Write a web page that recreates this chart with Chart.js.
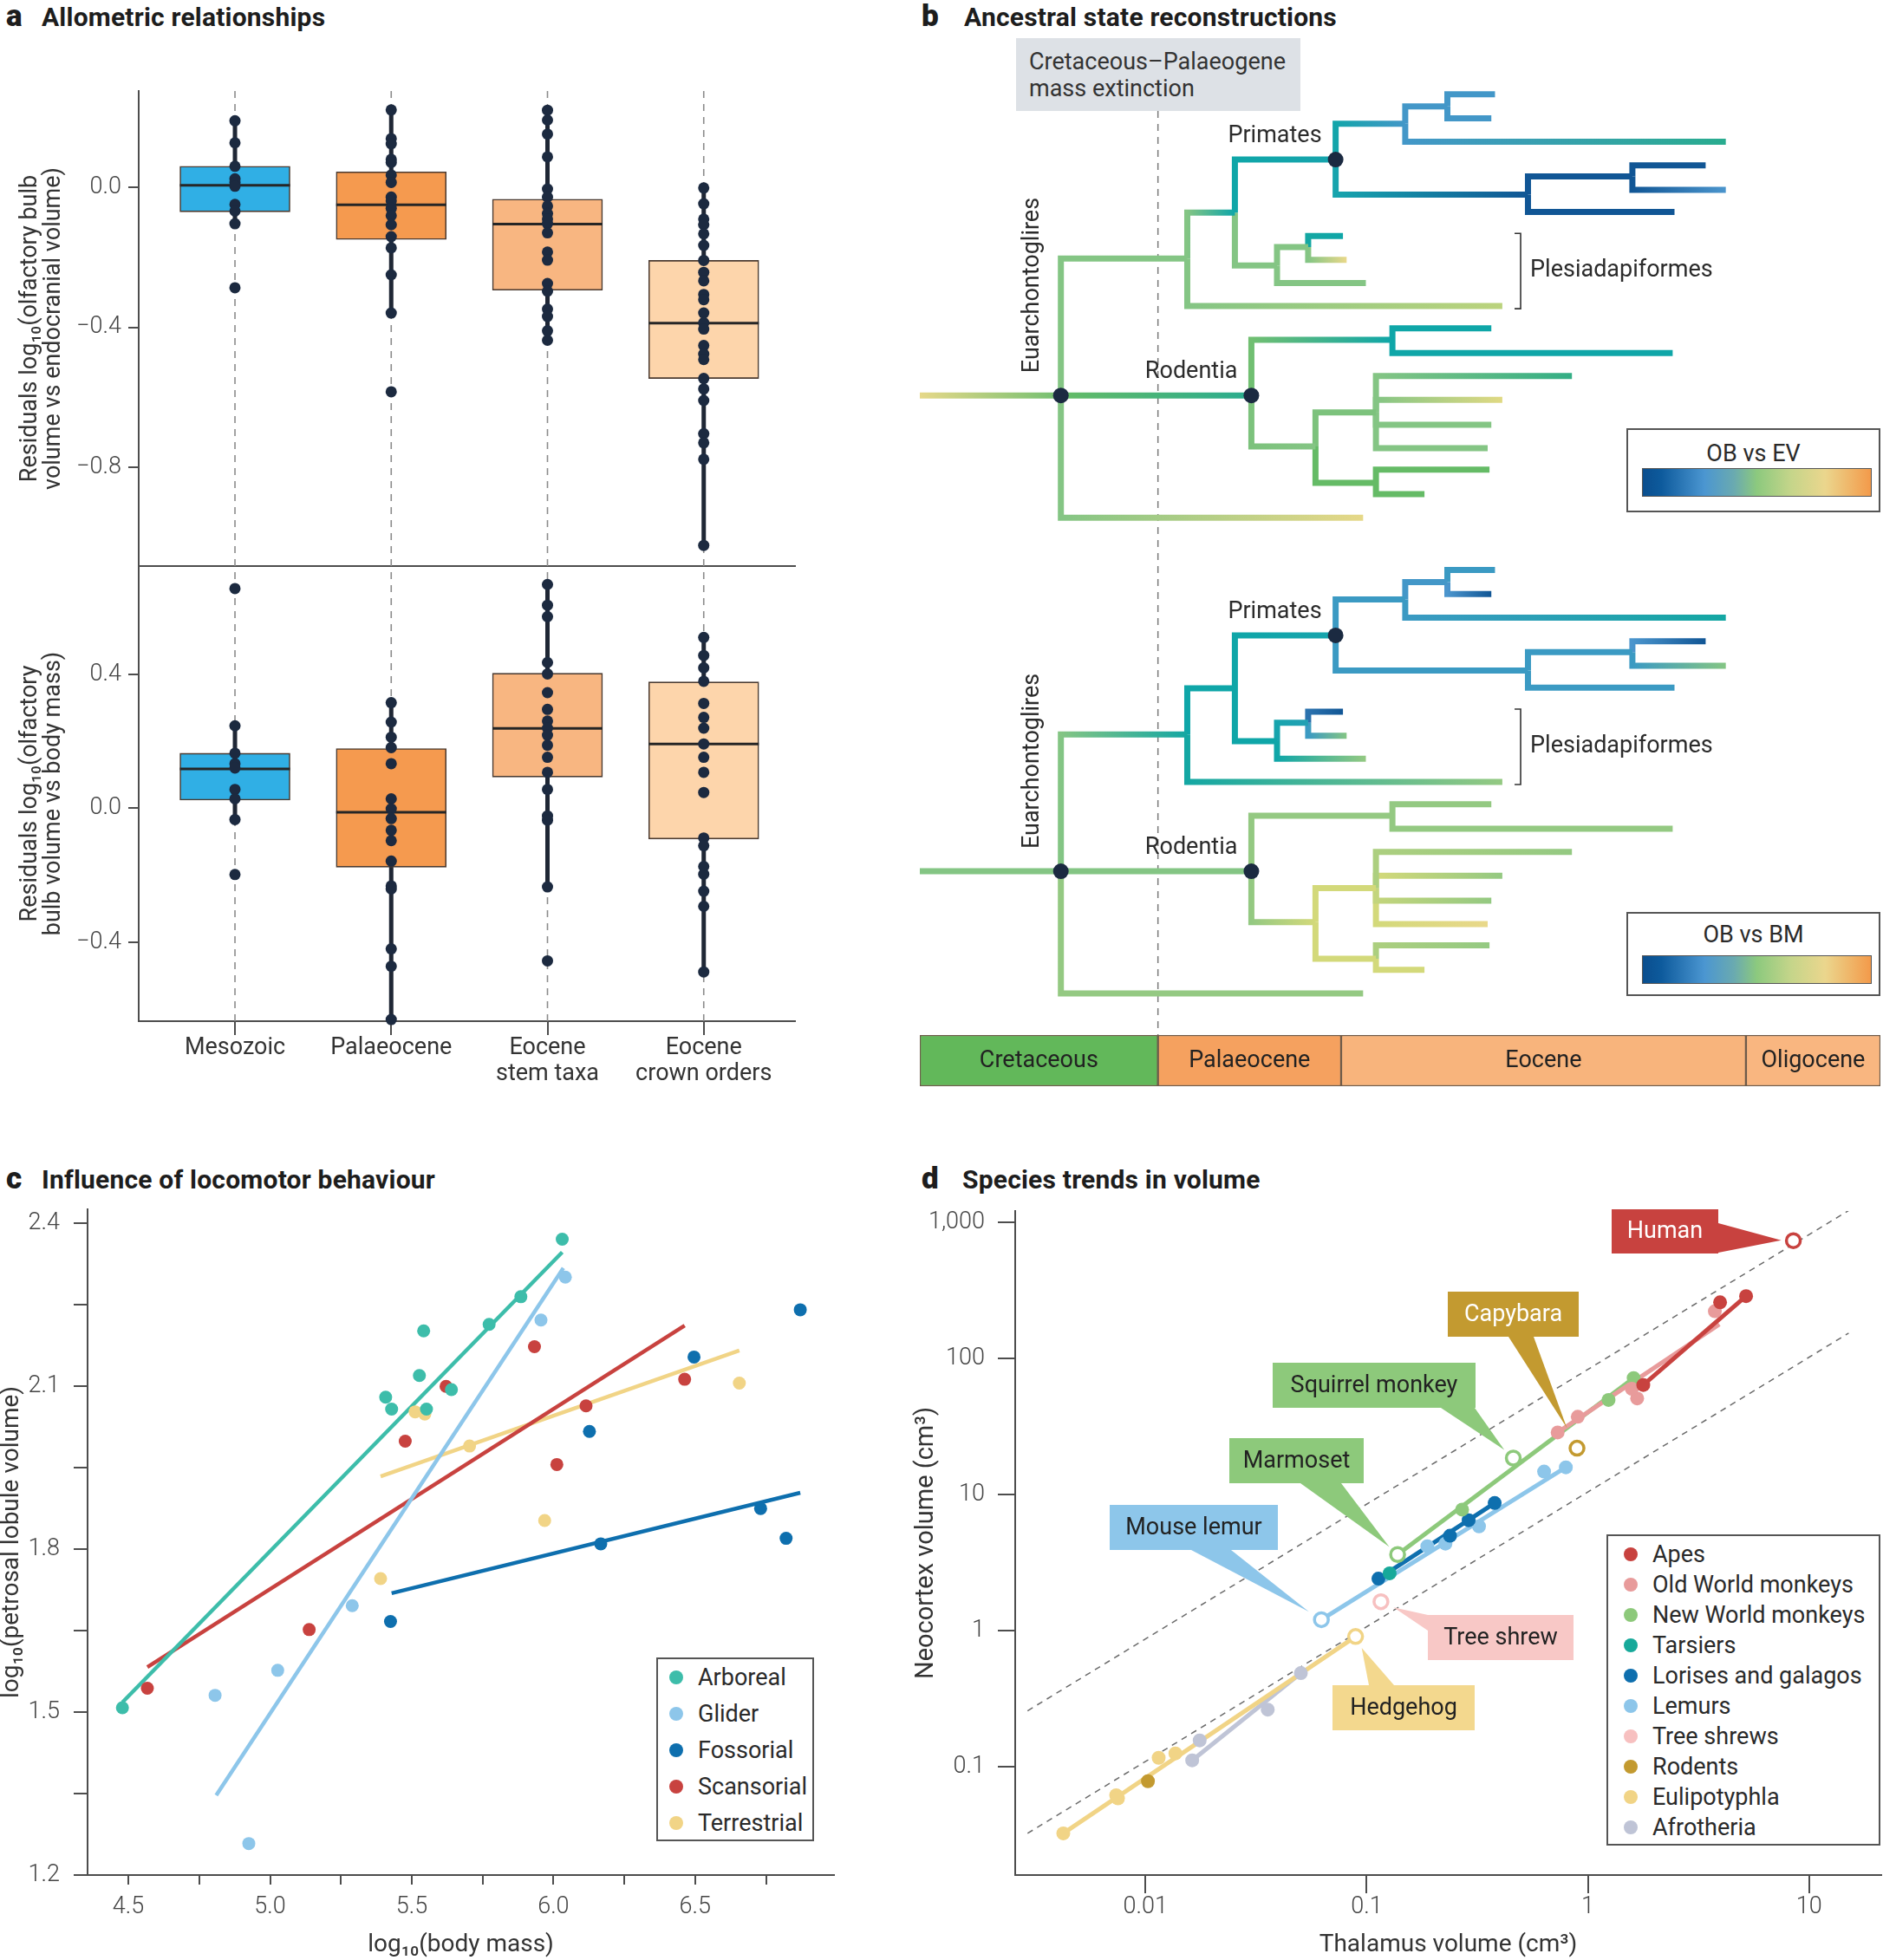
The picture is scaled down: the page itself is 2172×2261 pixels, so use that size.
<!DOCTYPE html>
<html>
<head>
<meta charset="utf-8">
<title>Olfactory bulb, petrosal lobule and neocortex volume</title>
<script src="https://cdn.jsdelivr.net/npm/chart.js@4.4.1/dist/chart.umd.min.js"></script>
<style>
  html, body { margin: 0; padding: 0; background: #fff; }
  body { position: relative; width: 2172px; height: 2261px; overflow: hidden; font-family: Roboto, "Noto Sans", sans-serif; color: #222; }
  .wrap { position: absolute; }
  .ptitle { position: absolute; font-weight: 700; font-size: 30px; letter-spacing: 0.2px; color: #1d1d1d; white-space: nowrap; line-height: 34px; }
  .ptitle .lt { font-weight: 900; font-size: 35px; display: inline-block; letter-spacing: 0; }
  .legend { position: absolute; border: 2px solid #555; background: #fff; box-sizing: border-box; }
  .legend .item { position: absolute; font-size: 27px; color: #2a2a2a; white-space: nowrap; line-height: 32px; }
  .legend .dot { position: absolute; border-radius: 50%; }
  .extinct { position: absolute; left: 1172px; top: 44px; width: 328px; height: 84px; background: #dde1e6; box-sizing: border-box; padding: 12px 0 0 15px; font-size: 27px; line-height: 31px; color: #333; }
  .scale { position: absolute; border: 2px solid #555; background: #fff; box-sizing: border-box; }
  .scale .name { position: absolute; left: 0; right: 0; text-align: center; font-size: 27px; line-height: 32px; color: #2a2a2a; }
  .scale .bar { position: absolute; left: 16px; width: 265px; height: 33px; border: 1.5px solid #555; box-sizing: border-box; }
</style>
</head>
<body>

<div class="ptitle" style="left:7px;top:2px"><span class="lt" style="width:41px">a</span>Allometric relationships</div>
<div class="ptitle" style="left:1063px;top:2px"><span class="lt" style="width:49px">b</span>Ancestral state reconstructions</div>
<div class="ptitle" style="left:7px;top:1343px"><span class="lt" style="width:41px">c</span>Influence of locomotor behaviour</div>
<div class="ptitle" style="left:1063px;top:1343px"><span class="lt" style="width:47px">d</span>Species trends in volume</div>

<div class="wrap" style="left:0;top:60px"><canvas id="evChart" width="940" height="600"></canvas></div>
<div class="wrap" style="left:0;top:653px"><canvas id="bmChart" width="940" height="637"></canvas></div>

<div class="extinct">Cretaceous–Palaeogene<br>mass extinction</div>
<div class="wrap" style="left:1061px;top:0"><canvas id="treeChart" width="1111" height="1194"></canvas></div>
<div class="wrap" style="left:1061px;top:1194px"><canvas id="timeChart" width="1111" height="60"></canvas></div>
<div class="scale" style="left:1876px;top:494px;width:293px;height:97px"><div class="name" style="top:11px">OB vs EV</div><div class="bar" id="evScale" style="top:44px"></div></div>
<div class="scale" style="left:1876px;top:1052px;width:293px;height:97px"><div class="name" style="top:8px">OB vs BM</div><div class="bar" id="bmScale" style="top:48px"></div></div>

<div class="wrap" style="left:0;top:1370px"><canvas id="locoChart" width="980" height="891"></canvas></div>
<div class="legend" id="locoLegend" style="left:757px;top:1912px;width:182px;height:212px"></div>

<div class="wrap" style="left:1050px;top:1370px"><canvas id="volChart" width="1122" height="891"></canvas></div>
<div class="legend" id="volLegend" style="left:1853px;top:1770px;width:316px;height:359px"></div>

<script>
// ---------------- a: residuals per time bin ----------------
const binNames = ['Mesozoic', 'Palaeocene', 'Eocene stem taxa', 'Eocene crown orders'];
const binTickLines = [['Mesozoic'], ['Palaeocene'], ['Eocene', 'stem taxa'], ['Eocene', 'crown orders']];
const binColors = ['#30afe5', '#f59a4f', '#f8b681', '#fdd5ab'];

// OB vs endocranial volume
const evQ1 = [-0.070, -0.149, -0.294, -0.546];
const evMedian = [0.006, -0.050, -0.105, -0.388];
const evQ3 = [0.060, 0.044, -0.034, -0.209];
const evWhiskerLow = [-0.104, -0.359, -0.437, -1.023];
const evWhiskerHigh = [0.190, 0.221, 0.220, -0.002];
const evPoints = [
  [0.190, 0.127, 0.060, 0.024, 0.014, 0.003, -0.049, -0.068, -0.104, -0.287],
  [0.221, 0.139, 0.124, 0.080, 0.071, 0.035, 0.014, -0.028, -0.039, -0.060, -0.081, -0.107, -0.141, -0.173, -0.250, -0.359, -0.584],
  [0.220, 0.192, 0.152, 0.087, -0.005, -0.028, -0.054, -0.075, -0.091, -0.104, -0.130, -0.185, -0.208, -0.275, -0.297, -0.348, -0.369, -0.410, -0.437],
  [-0.002, -0.047, -0.091, -0.107, -0.133, -0.166, -0.209, -0.243, -0.267, -0.306, -0.321, -0.359, -0.387, -0.405, -0.452, -0.476, -0.492, -0.546, -0.576, -0.609, -0.704, -0.730, -0.777, -1.023]
];
const evTicks = [-0.8, -0.4, 0];

// OB vs body mass
const bmQ1 = [0.024, -0.176, 0.093, -0.092];
const bmMedian = [0.117, -0.012, 0.238, 0.192];
const bmQ3 = [0.164, 0.178, 0.403, 0.377];
const bmWhiskerLow = [-0.034, -0.631, -0.235, -0.489];
const bmWhiskerHigh = [0.246, 0.315, 0.668, 0.510];
const bmPoints = [
  [0.656, 0.246, 0.164, 0.133, 0.120, 0.056, 0.028, -0.034, -0.198],
  [0.315, 0.257, 0.212, 0.181, 0.133, 0.028, -0.002, -0.031, -0.066, -0.097, -0.158, -0.232, -0.241, -0.420, -0.472, -0.631],
  [0.668, 0.606, 0.572, 0.435, 0.401, 0.345, 0.295, 0.260, 0.239, 0.218, 0.188, 0.152, 0.107, 0.056, -0.023, -0.036, -0.235, -0.456],
  [0.510, 0.456, 0.419, 0.379, 0.313, 0.271, 0.239, 0.192, 0.152, 0.107, 0.047, -0.089, -0.112, -0.174, -0.197, -0.248, -0.293, -0.489]
];
const bmTicks = [-0.4, 0, 0.4];

// ---------------- b: tree (ages in Ma, rows = vertical layout units) ----------------
const nodeId     = ['R', 'N1', 'N2', 'N3', 'N4', 'N5', 'N6', 'T1', 'T2', 'T3', 'N7', 'N8', 'T4', 'T5', 'T6', 'N9', 'N10', 'T7', 'T8', 'T9', 'T10', 'N11', 'N12', 'T11', 'T12', 'N13', 'N14', 'T13', 'T14', 'T15', 'T16', 'N15', 'T17', 'T18', 'T19'];
const nodeParent = [null, 'R', 'N1', 'N2', 'N3', 'N4', 'N5', 'N6', 'N6', 'N5', 'N4', 'N7', 'N8', 'N8', 'N7', 'N3', 'N9', 'N10', 'N10', 'N9', 'N2', 'N1', 'N11', 'N12', 'N12', 'N11', 'N13', 'N14', 'N14', 'N14', 'N14', 'N13', 'N15', 'N15', 'N1'];
const nodeAge    = [79, 71.3, 64.4, 61.8, 56.3, 52.5, 50.2, 47.6, 47.8, 35.0, 45.8, 40.1, 36.1, 35.0, 37.8, 59.5, 57.8, 55.9, 55.7, 54.65, 47.2, 60.9, 53.2, 47.8, 37.9, 57.4, 54.1, 43.4, 47.2, 47.8, 48.0, 54.1, 47.9, 51.45, 54.8];
const nodeRow    = [0, 0, -109.5, -146.3, -188.7, -217.4, -231.3, -241, -221.7, -202.9, -160.6, -175.3, -184, -164.4, -146.8, -104, -118.8, -127.6, -108.4, -90, -71.5, 0, -44.5, -53.7, -34, 40.7, 13.5, -15.5, 3.5, 23.5, 42.2, 69.9, 59.3, 78.9, 97.8];
// trait value (0 = low, 1 = high) at start and end of each branch
const evStart = [null, 0.76, 0.6, 0.6, 0.35, 0.34, 0.22, 0.22, 0.22, 0.22, 0.33, 0.02, 0.02, 0.02, 0.02, 0.6, 0.6, 0.36, 0.6, 0.6, 0.6, 0.52, 0.55, 0.35, 0.35, 0.58, 0.58, 0.6, 0.6, 0.6, 0.6, 0.52, 0.52, 0.52, 0.6];
const evEnd   = [null, 0.55, 0.6, 0.35, 0.33, 0.22, 0.22, 0.22, 0.22, 0.4, 0.02, 0.02, 0.02, 0.2, 0.02, 0.6, 0.6, 0.35, 0.77, 0.6, 0.67, 0.4, 0.35, 0.35, 0.35, 0.6, 0.58, 0.42, 0.74, 0.6, 0.6, 0.52, 0.52, 0.52, 0.76];
const bmStart = [null, 0.6, 0.6, 0.35, 0.35, 0.24, 0.22, 0.24, 0.2, 0.24, 0.24, 0.24, 0.2, 0.24, 0.24, 0.35, 0.33, 0.1, 0.24, 0.35, 0.36, 0.6, 0.62, 0.62, 0.62, 0.62, 0.7, 0.65, 0.7, 0.68, 0.7, 0.7, 0.65, 0.7, 0.62];
const bmEnd   = [null, 0.6, 0.36, 0.35, 0.33, 0.24, 0.22, 0.24, 0.02, 0.36, 0.24, 0.24, 0.02, 0.6, 0.24, 0.35, 0.3, 0.02, 0.6, 0.62, 0.62, 0.6, 0.62, 0.62, 0.62, 0.7, 0.7, 0.62, 0.62, 0.62, 0.77, 0.7, 0.62, 0.7, 0.62];
const cladeNames = ['Euarchontoglires', 'Primates', 'Rodentia'];
const cladeNodes = ['N1', 'N4', 'N11'];
const treeShift = [0, 380.6];
const kpgAge = 66;

const periodNames = ['Cretaceous', 'Palaeocene', 'Eocene', 'Oligocene'];
const periodStart = [79, 66, 56, 33.9];
const periodEnd = [66, 56, 33.9, 26.56];
const periodColors = ['#62b85a', '#f5a15f', '#f8b47c', '#f9b680'];

const treeStops = [[0, '#0b4f8f'], [0.2, '#4b95cd'], [0.35, '#0fa6a8'], [0.5, '#5db85e'], [0.6, '#84c584'], [0.7, '#d3d97a'], [0.78, '#ecd88c'], [1, '#f39a4c']];
const scaleStops = [[0, '#0a4e8e'], [0.08, '#0d5a9c'], [0.27, '#4b96d1'], [0.4, '#6aaab0'], [0.5, '#8cc97e'], [0.65, '#c5d58a'], [0.8, '#ebd68d'], [1, '#f39a4a']];

// ---------------- c: petrosal lobule vs body mass ----------------
const locoNames = ['Arboreal', 'Glider', 'Fossorial', 'Scansorial', 'Terrestrial'];
const locoColors = ['#3dbdaa', '#8dc6ea', '#0e6fae', '#c8423f', '#f1d486'];
const arborealMass = [4.479, 5.408, 5.429, 5.527, 5.542, 5.552, 5.640, 5.773, 5.885, 6.031];
const arborealPl   = [1.508, 2.080, 2.058, 2.120, 2.202, 2.058, 2.094, 2.214, 2.265, 2.371];
const gliderMass = [4.806, 4.925, 5.027, 5.290, 5.956, 6.042];
const gliderPl   = [1.531, 1.258, 1.577, 1.696, 2.222, 2.301];
const fossorialMass = [5.425, 6.127, 6.167, 6.496, 6.731, 6.821, 6.871];
const fossorialPl   = [1.667, 2.017, 1.810, 2.154, 1.875, 1.820, 2.241];
const scansorialMass = [4.567, 5.138, 5.477, 5.621, 5.933, 6.012, 6.115, 6.463];
const scansorialPl   = [1.544, 1.652, 1.999, 2.100, 2.173, 1.956, 2.064, 2.113];
const terrestrialMass = [5.390, 5.512, 5.546, 5.704, 5.969, 6.656];
const terrestrialPl   = [1.746, 2.053, 2.049, 1.990, 1.853, 2.106];
const fitMass = [[4.479, 6.031], [4.810, 6.035], [5.429, 6.871], [4.567, 6.463], [5.390, 6.656]];
const fitPl   = [[1.518, 2.347], [1.347, 2.318], [1.719, 1.904], [1.583, 2.212], [1.934, 2.166]];
const massTicks = [4.5, 4.75, 5, 5.25, 5.5, 5.75, 6, 6.25, 6.5, 6.75];
const plTicks = [1.2, 1.35, 1.5, 1.65, 1.8, 1.95, 2.1, 2.25, 2.4];

// ---------------- d: neocortex vs thalamus volume ----------------
const groups = ['Apes', 'Old World monkeys', 'New World monkeys', 'Tarsiers', 'Lorises and galagos', 'Lemurs', 'Tree shrews', 'Rodents', 'Eulipotyphla', 'Afrotheria'];
const groupColors = ['#c8423f', '#e89b9b', '#8dc97b', '#17a99a', '#0e6fae', '#8dc6ea', '#f7c0c0', '#c39a30', '#f1d486', '#bfc4d6'];
const thalamus = [[3.96, 5.19, 1.78], [3.75, 1.67, 1.58, 0.90, 0.73], [1.61, 1.24, 0.27], [0.127], [0.113, 0.238, 0.289, 0.379], [0.634, 0.795, 0.322, 0.227, 0.188], [], [0.01026], [0.00425, 0.00737, 0.00751, 0.01147, 0.01365], [0.01626, 0.01758, 0.0357, 0.0504]];
const neocortex = [[259, 288, 64], [223, 51, 60, 37.4, 28.7], [72, 49.7, 7.78], [2.65], [2.42, 5.0, 6.5, 8.7], [14.8, 15.9, 5.86, 4.38, 4.19], [], [0.0787], [0.0326, 0.0621, 0.0589, 0.117, 0.126], [0.112, 0.157, 0.264, 0.49]];
const trendThal = [[1.78, 5.19], [0.73, 3.93], [0.138, 1.61], null, [0.113, 0.379], [0.0624, 0.795], null, null, [0.00425, 0.0891], [0.01626, 0.0504]];
const trendNeo  = [[64, 288], [28.7, 179], [3.64, 72], null, [2.42, 8.7], [1.21, 15.9], null, null, [0.0326, 0.91], [0.112, 0.49]];
const namedSpecies = ['Human', 'Capybara', 'Squirrel monkey', 'Marmoset', 'Mouse lemur', 'Tree shrew', 'Hedgehog'];
const namedGroup = [0, 7, 2, 2, 5, 6, 8];
const namedThal = [8.49, 0.893, 0.46, 0.138, 0.0624, 0.116, 0.0891];
const namedNeo  = [735, 22.0, 18.6, 3.64, 1.21, 1.64, 0.910];
const guideThal = [0.00293, 15.1];
const guideNeo = [[0.259, 1225], [0.0326, 154]];
const thalTicks = [0.01, 0.1, 1, 10];
const neoTicks = [0.1, 1, 10, 100, 1000];

// ---------------- helpers ----------------
Chart.defaults.font.family = "Roboto, 'Noto Sans', sans-serif";
Chart.defaults.color = '#333';

function fixAxis(size) {
  return scale => {
    if (scale.isHorizontal()) scale.height = size;
    else scale.width = size;
    scale.paddingTop = scale.paddingBottom = scale.paddingLeft = scale.paddingRight = 0;
  };
}
function setTicks(values) {
  return scale => { scale.ticks = values.map(v => ({ value: v })); };
}
const axisLine = { display: true, color: '#4d4d4d', width: 2 };
function tickMarks(len) {
  return { display: true, offset: false, drawOnChartArea: false, drawTicks: true, tickLength: len, color: '#4d4d4d', lineWidth: 2 };
}
const numFont = { size: 27, weight: 300 };
const quiet = { legend: { display: false }, tooltip: { enabled: false } };

function hexRgb(h) {
  return [parseInt(h.slice(1, 3), 16), parseInt(h.slice(3, 5), 16), parseInt(h.slice(5, 7), 16)];
}
function traitColor(v) {
  for (let i = 1; i < treeStops.length; i++) {
    if (v <= treeStops[i][0]) {
      const [p0, c0] = treeStops[i - 1], [p1, c1] = treeStops[i];
      const t = (v - p0) / (p1 - p0);
      const a = hexRgb(c0), b = hexRgb(c1);
      return 'rgb(' + a.map((c, k) => Math.round(c + (b[k] - c) * t)).join(',') + ')';
    }
  }
  return treeStops[treeStops.length - 1][1];
}

// ---------------- a ----------------
function boxChart(id, q1, med, q3, wLo, wHi, pts, yMin, yMax, yTicks, title, bottom) {
  const datasets = [];
  binNames.forEach((_, i) => {
    datasets.push({ type: 'line', data: [{ x: i + 1, y: yMin }, { x: i + 1, y: yMax }], borderColor: '#8c8c8c', borderWidth: 1.6, borderDash: [8, 7], pointRadius: 0, order: 5 });
    datasets.push({ type: 'line', data: [{ x: i + 1, y: wLo[i] }, { x: i + 1, y: wHi[i] }], borderColor: '#1f2735', borderWidth: 5, pointRadius: 0, order: 4 });
  });
  datasets.push({
    type: 'bar', data: binNames.map((_, i) => ({ x: i + 1, y: [q1[i], q3[i]] })),
    backgroundColor: binColors, borderColor: '#4b3b31', borderWidth: 1.6, borderSkipped: false, barThickness: 127, order: 3
  });
  datasets.push({
    type: 'scatter', data: med.map((v, i) => ({ x: i + 1, y: v })),
    pointStyle: 'line', pointRadius: 63.5, pointBorderWidth: 3, pointBorderColor: '#262626', order: 2
  });
  datasets.push({
    type: 'scatter', data: pts.flatMap((arr, i) => arr.map(v => ({ x: i + 1, y: v }))),
    pointRadius: 6.5, pointBackgroundColor: '#1c2a40', pointBorderWidth: 0, clip: false, order: 1
  });
  return new Chart(document.getElementById(id), {
    type: 'scatter',
    data: { datasets },
    options: {
      responsive: false, animation: false, events: [],
      layout: { autoPadding: false, padding: bottom ? { top: 0, right: 23, left: 0, bottom: 0 } : { top: 45, right: 23, left: 0, bottom: 0 } },
      plugins: quiet,
      scales: {
        x: {
          type: 'linear', min: 0.384, max: 4.584, offset: false,
          afterBuildTicks: setTicks(binNames.map((_, i) => i + 1)),
          afterFit: fixAxis(bottom ? 112 : 7),
          ticks: { display: bottom, autoSkip: false, maxRotation: 0, padding: 0, color: '#333', font: { size: 27, lineHeight: 1.12 }, callback: (v, i) => binTickLines[i] },
          grid: bottom ? tickMarks(16) : { display: false },
          border: axisLine
        },
        y: {
          min: yMin, max: yMax,
          afterBuildTicks: setTicks(yTicks),
          afterFit: fixAxis(160),
          ticks: { padding: 8, color: '#444', font: numFont, callback: v => (v < 0 ? '−' : '') + Math.abs(v).toFixed(1) },
          grid: tickMarks(12),
          border: axisLine,
          title: { display: true, text: title, color: '#333', font: { size: 27, lineHeight: 1.0 }, padding: { top: 22, bottom: 0 } }
        }
      }
    }
  });
}
boxChart('evChart', evQ1, evMedian, evQ3, evWhiskerLow, evWhiskerHigh, evPoints, -1.082, 0.275, evTicks,
  ['Residuals log₁₀(olfactory bulb', 'volume vs endocranial volume)'], false);
boxChart('bmChart', bmQ1, bmMedian, bmQ3, bmWhiskerLow, bmWhiskerHigh, bmPoints, -0.636, 0.723, bmTicks,
  ['Residuals log₁₀(olfactory', 'bulb volume vs body mass)'], true);

// ---------------- b ----------------
function branchGradient(chart, a0, a1, c0, c1) {
  if (!chart.chartArea) return c1;
  const xs = chart.scales.x;
  const x0 = xs.getPixelForValue(a0), x1 = xs.getPixelForValue(a1);
  const g = chart.ctx.createLinearGradient(x0, 0, x1, 0);
  g.addColorStop(0, c0);
  g.addColorStop(1, c1);
  return g;
}

const treeDatasets = [];
const treeStarts = [evStart, bmStart], treeEnds = [evEnd, bmEnd];
treeShift.forEach((off, t) => {
  nodeId.forEach((id, k) => {
    const p = nodeParent[k];
    if (p === null) return;
    const pk = nodeId.indexOf(p);
    const a0 = nodeAge[pk], a1 = nodeAge[k];
    const c0 = traitColor(treeStarts[t][k]), c1 = traitColor(treeEnds[t][k]);
    treeDatasets.push({
      type: 'line',
      data: [{ x: a0, y: nodeRow[pk] + off }, { x: a0, y: nodeRow[k] + off }, { x: a1, y: nodeRow[k] + off }],
      borderColor: ctx => branchGradient(ctx.chart, a0, a1, c0, c1),
      borderWidth: 7, borderJoinStyle: 'miter', borderCapStyle: 'butt', pointRadius: 0, order: 3
    });
  });
});
treeDatasets.push({
  type: 'scatter',
  data: treeShift.flatMap(off => cladeNodes.map(n => ({ x: nodeAge[nodeId.indexOf(n)], y: nodeRow[nodeId.indexOf(n)] + off }))),
  pointRadius: 9, pointBackgroundColor: '#1b2a41', pointBorderWidth: 0, order: 1
});
const treeYMin = -288.6, treeYMax = 511.6;
treeDatasets.push({
  type: 'line', data: [{ x: kpgAge, y: -227.6 }, { x: kpgAge, y: treeYMax }],
  borderColor: '#7a7a7a', borderWidth: 1.5, borderDash: [8, 7], pointRadius: 0, order: 6
});

const treeLabels = {
  id: 'treeLabels',
  afterDatasetsDraw(chart) {
    const { ctx, scales: { x, y } } = chart;
    ctx.save();
    ctx.fillStyle = '#2b2b2b';
    ctx.font = "27px Roboto, 'Noto Sans', sans-serif";
    ctx.textBaseline = 'middle';
    treeShift.forEach(off => {
      cladeNames.forEach((name, i) => {
        const k = nodeId.indexOf(cladeNodes[i]);
        const px = x.getPixelForValue(nodeAge[k]), py = y.getPixelForValue(nodeRow[k] + off);
        if (i === 0) {
          ctx.save();
          ctx.translate(px - 32, py - 26);
          ctx.rotate(-Math.PI / 2);
          ctx.textAlign = 'left';
          ctx.fillText(name, 0, 0);
          ctx.restore();
        } else {
          ctx.textAlign = 'right';
          ctx.fillText(name, px - 16, py - 27);
        }
      });
      // Plesiadapiformes bracket from T7 to T10
      const bx = x.getPixelForValue(46.2);
      const yTop = y.getPixelForValue(nodeRow[nodeId.indexOf('T7')] + off) - 3;
      const yBot = y.getPixelForValue(nodeRow[nodeId.indexOf('T10')] + off) + 3;
      ctx.strokeStyle = '#333';
      ctx.lineWidth = 1.6;
      ctx.beginPath();
      ctx.moveTo(bx - 7, yTop); ctx.lineTo(bx, yTop); ctx.lineTo(bx, yBot); ctx.lineTo(bx - 7, yBot);
      ctx.stroke();
      ctx.textAlign = 'left';
      ctx.fillText('Plesiadapiformes', bx + 11, (yTop + yBot) / 2);
    });
    ctx.restore();
  }
};

const treeChart = new Chart(document.getElementById('treeChart'), {
  type: 'scatter',
  data: { datasets: treeDatasets },
  options: {
    responsive: false, animation: false, events: [],
    layout: { autoPadding: false, padding: { top: 40, right: 3, left: 0, bottom: 0 } },
    plugins: quiet,
    scales: {
      x: { type: 'linear', reverse: true, min: 26.56, max: 79, display: false },
      y: { type: 'linear', reverse: true, min: treeYMin, max: treeYMax, display: false }
    }
  },
  plugins: [treeLabels]
});
treeChart.update('none');

const periodLabels = {
  id: 'periodLabels',
  afterDatasetsDraw(chart) {
    const ctx = chart.ctx;
    ctx.save();
    ctx.font = "27px Roboto, 'Noto Sans', sans-serif";
    ctx.fillStyle = '#222';
    ctx.textAlign = 'center';
    ctx.textBaseline = 'middle';
    chart.data.datasets.forEach((ds, i) => {
      const el = chart.getDatasetMeta(i).data[0];
      ctx.fillText(ds.label, (el.x + el.base) / 2, el.y + 1);
    });
    ctx.restore();
  }
};
new Chart(document.getElementById('timeChart'), {
  type: 'bar',
  data: {
    labels: ['Epoch'],
    datasets: periodNames.map((name, i) => ({
      label: name, data: [[periodStart[i], periodEnd[i]]],
      backgroundColor: periodColors[i], borderColor: '#6e5b4a', borderWidth: 1.5, borderSkipped: false,
      grouped: false, barPercentage: 1, categoryPercentage: 1
    }))
  },
  options: {
    indexAxis: 'y', responsive: false, animation: false, events: [],
    layout: { autoPadding: false, padding: { right: 3, bottom: 1 } },
    plugins: quiet,
    scales: {
      x: { type: 'linear', reverse: true, min: 26.56, max: 79, display: false },
      y: { display: false }
    }
  },
  plugins: [periodLabels]
});

const gradCss = 'linear-gradient(to right,' + scaleStops.map(s => s[1] + ' ' + (s[0] * 100) + '%').join(',') + ')';
document.getElementById('evScale').style.background = gradCss;
document.getElementById('bmScale').style.background = gradCss;

// ---------------- c ----------------
const locoMass = [arborealMass, gliderMass, fossorialMass, scansorialMass, terrestrialMass];
const locoPl = [arborealPl, gliderPl, fossorialPl, scansorialPl, terrestrialPl];
const locoDatasets = [];
locoNames.forEach((name, i) => {
  locoDatasets.push({ type: 'line', data: fitMass[i].map((x, j) => ({ x, y: fitPl[i][j] })), borderColor: locoColors[i], borderWidth: 4.5, pointRadius: 0, order: 2 });
  locoDatasets.push({ type: 'scatter', label: name, data: locoMass[i].map((x, j) => ({ x, y: locoPl[i][j] })), pointRadius: 7.5, pointBackgroundColor: locoColors[i], pointBorderWidth: 0, clip: false, order: 1 });
});
new Chart(document.getElementById('locoChart'), {
  type: 'scatter',
  data: { datasets: locoDatasets },
  options: {
    responsive: false, animation: false, events: [],
    layout: { autoPadding: false, padding: { top: 25, right: 18, left: 0, bottom: 0 } },
    plugins: quiet,
    scales: {
      x: {
        type: 'linear', min: 4.356, max: 6.99,
        afterBuildTicks: setTicks(massTicks), afterFit: fixAxis(98),
        ticks: { autoSkip: false, maxRotation: 0, padding: 10, color: '#444', font: numFont, callback: v => (Math.round(v * 100) % 50 === 0 ? v.toFixed(1) : '') },
        grid: tickMarks(11), border: axisLine,
        title: { display: true, text: 'log₁₀(body mass)', color: '#333', font: { size: 28, lineHeight: 1.2 }, padding: { top: 0, bottom: 0 } }
      },
      y: {
        min: 1.2, max: 2.426,
        afterBuildTicks: setTicks(plTicks), afterFit: fixAxis(101),
        ticks: { autoSkip: false, padding: 16, color: '#444', font: numFont, callback: v => (Math.round(v * 100) % 30 === 0 ? v.toFixed(1) : '') },
        grid: tickMarks(16), border: axisLine,
        title: { display: true, text: 'log₁₀(petrosal lobule volume)', color: '#333', font: { size: 28, lineHeight: 1 }, padding: { top: 0, bottom: 0 } }
      }
    }
  }
});

function htmlLegend(el, names, colors, firstY, stepY, dotX, textX, dotSize) {
  names.forEach((name, i) => {
    const cy = firstY + i * stepY;
    const dot = document.createElement('span');
    dot.className = 'dot';
    dot.style.cssText = `left:${dotX - dotSize / 2}px;top:${cy - dotSize / 2}px;width:${dotSize}px;height:${dotSize}px;background:${colors[i]}`;
    const lab = document.createElement('span');
    lab.className = 'item';
    lab.style.cssText = `left:${textX}px;top:${cy - 16}px`;
    lab.textContent = name;
    el.appendChild(dot);
    el.appendChild(lab);
  });
}
htmlLegend(document.getElementById('locoLegend'), locoNames, locoColors, 21, 42, 21, 46, 16);

// ---------------- d ----------------
const volDatasets = [];
guideNeo.forEach(gy => {
  volDatasets.push({ type: 'line', data: guideThal.map((x, j) => ({ x, y: gy[j] })), borderColor: '#6b6b6b', borderWidth: 1.5, borderDash: [7, 6], pointRadius: 0, order: 6 });
});
groups.forEach((g, i) => {
  if (trendThal[i]) {
    volDatasets.push({ type: 'line', data: trendThal[i].map((x, j) => ({ x, y: trendNeo[i][j] })), borderColor: groupColors[i], borderWidth: 5, pointRadius: 0, order: 4 });
  }
  if (thalamus[i].length) {
    volDatasets.push({ type: 'scatter', label: g, data: thalamus[i].map((x, j) => ({ x, y: neocortex[i][j] })), pointRadius: 8, pointBackgroundColor: groupColors[i], pointBorderWidth: 0, clip: false, order: 3 });
  }
});
volDatasets.push({
  type: 'scatter', data: namedThal.map((x, j) => ({ x, y: namedNeo[j] })),
  pointRadius: 8, pointBackgroundColor: '#fff', pointBorderColor: namedGroup.map(g => groupColors[g]), pointBorderWidth: 3.5, order: 1
});

const callouts = {
  id: 'callouts',
  afterDatasetsDraw(chart, args, opts) {
    const { ctx, scales: { x, y } } = chart;
    ctx.save();
    opts.items.forEach(c => {
      const k = namedSpecies.indexOf(c.name);
      const tx = x.getPixelForValue(namedThal[k]), ty = y.getPixelForValue(namedNeo[k]);
      const [bx, by, bw, bh] = c.box;
      const b1 = [bx + c.base[0][0], by + c.base[0][1]], b2 = [bx + c.base[1][0], by + c.base[1][1]];
      const mx = (b1[0] + b2[0]) / 2, my = (b1[1] + b2[1]) / 2;
      const d = Math.hypot(tx - mx, ty - my);
      const px = tx - (tx - mx) / d * c.gap, py = ty - (ty - my) / d * c.gap;
      ctx.fillStyle = c.fill;
      ctx.beginPath();
      ctx.moveTo(b1[0], b1[1]); ctx.lineTo(b2[0], b2[1]); ctx.lineTo(px, py);
      ctx.closePath();
      ctx.fill();
      ctx.fillRect(bx, by, bw, bh);
      ctx.fillStyle = c.ink;
      ctx.font = "27px Roboto, 'Noto Sans', sans-serif";
      ctx.textAlign = 'center';
      ctx.textBaseline = 'middle';
      ctx.fillText(c.name, bx + bw / 2, by + bh / 2 + 1);
    });
    ctx.restore();
  }
};

new Chart(document.getElementById('volChart'), {
  type: 'scatter',
  data: { datasets: volDatasets },
  options: {
    responsive: false, animation: false, events: [],
    layout: { autoPadding: false, padding: { top: 27, right: 2, left: 0, bottom: 0 } },
    plugins: {
      legend: { display: false }, tooltip: { enabled: false },
      callouts: {
        items: [
          { name: 'Human', box: [809, 25, 123, 51], base: [[123, 16], [123, 50]], gap: 14, fill: '#c8423f', ink: '#fff' },
          { name: 'Capybara', box: [620, 120, 151, 52], base: [[70, 52], [99, 52]], gap: 26, fill: '#c39a30', ink: '#fff' },
          { name: 'Squirrel monkey', box: [418, 202, 234, 52], base: [[194, 52], [233, 52]], gap: 14, fill: '#8dc97b', ink: '#222' },
          { name: 'Marmoset', box: [368, 289, 155, 52], base: [[82, 52], [129, 52]], gap: 13, fill: '#8dc97b', ink: '#222' },
          { name: 'Mouse lemur', box: [230, 366, 194, 52], base: [[94, 52], [140, 52]], gap: 17, fill: '#8dc6ea', ink: '#222' },
          { name: 'Tree shrew', box: [597, 493, 168, 52], base: [[0, 0], [0, 18]], gap: 16, fill: '#f8c8c6', ink: '#222' },
          { name: 'Hedgehog', box: [487, 574, 164, 52], base: [[42, 0], [71, 0]], gap: 15, fill: '#f3d88e', ink: '#222' }
        ]
      }
    },
    scales: {
      x: {
        type: 'logarithmic', min: 0.002576, max: 21.2,
        afterBuildTicks: setTicks(thalTicks), afterFit: fixAxis(98),
        ticks: { autoSkip: false, maxRotation: 0, padding: 0, color: '#444', font: numFont, callback: v => (v >= 1 ? Number(v).toLocaleString('en-US') : String(v)) },
        grid: tickMarks(21), border: axisLine,
        title: { display: true, text: 'Thalamus volume (cm³)', color: '#333', font: { size: 28, lineHeight: 1.2 }, padding: { top: 0, bottom: 0 } }
      },
      y: {
        type: 'logarithmic', min: 0.0161, max: 1214,
        afterBuildTicks: setTicks(neoTicks), afterFit: fixAxis(121),
        ticks: { autoSkip: false, padding: 15, color: '#444', font: numFont, callback: v => (v >= 1 ? Number(v).toLocaleString('en-US') : String(v)) },
        grid: tickMarks(20), border: axisLine,
        title: { display: true, text: 'Neocortex volume (cm³)', color: '#333', font: { size: 29, lineHeight: 1 }, padding: { top: 4, bottom: 0 } }
      }
    }
  },
  plugins: [callouts]
});

htmlLegend(document.getElementById('volLegend'), groups, groupColors, 21, 35, 26, 51, 16);
</script>
</body>
</html>
